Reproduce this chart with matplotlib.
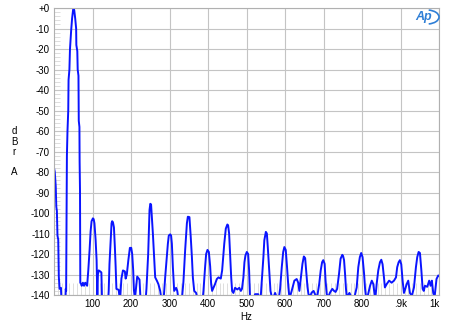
import matplotlib
matplotlib.use("Agg")
import matplotlib.pyplot as plt
from matplotlib.ticker import MultipleLocator, FixedLocator
from matplotlib.patches import Arc

plt.rcParams['font.family'] = ['Liberation Sans', 'DejaVu Sans']

# spectrum (Hz, dBrA)
freq_hz = [
    0, 2, 4.5, 6, 7.5, 9, 11, 12.5, 14.5, 18, 20, 29, 30.5, 31.5,
    33.5, 35, 37, 37.8, 40, 41.5, 44.5, 47, 49.5, 50.8, 52.5, 55, 57.5, 58,
    60.5, 61.5, 63.5, 64.3, 66, 66.5, 67.5, 68.3, 70, 72, 75, 78, 81, 84, 86,
    89, 92.4, 95, 97.5, 101, 103, 105, 108, 110.6, 112.5, 114, 116, 120, 123,
    125, 140, 142, 144, 146.8, 149.4, 151, 153, 155.6, 158, 160, 162, 168,
    170, 172, 175, 179, 184, 186, 189, 193, 197, 200.5, 203, 205.6, 207.5,
    210, 214, 216, 222, 224.6, 238, 240, 244.5, 248, 250, 252, 254, 256.7,
    260, 262.7, 267, 271, 275.7, 278, 285, 288.6, 293, 295.6, 298, 301.6,
    304, 306, 308.6, 312, 317, 320, 323, 332, 336, 340.5, 345, 347.5, 351.6,
    355, 358, 360.5, 364, 369, 372.4, 386, 388, 392.4, 395, 398.4, 402,
    405.4, 408, 410.5, 414, 418, 422.7, 427, 433, 436.5, 442, 446, 450, 452,
    454.6, 457.5, 460, 462.4, 465.8, 470, 476, 481, 485, 488, 491.7, 494.4,
    497, 500.5, 504, 506.5, 509, 518, 522, 530, 533, 537, 539, 543.6, 546,
    550, 552.6, 555, 558.6, 562, 565.5, 570, 574, 578, 584, 587, 591.3, 595,
    598, 601.6, 605, 608.4, 611, 614, 617, 624, 630, 634, 637, 641, 645,
    648.6, 652, 654.6, 658, 660.6, 665, 669, 674, 679.6, 684, 688.5, 692.4,
    696, 699, 702.6, 705, 708, 712, 716.6, 722.5, 727, 731, 735, 740, 744,
    748.4, 750.5, 753, 755.6, 758, 760, 767, 772, 780, 785.8, 790, 794,
    797.5, 801, 805, 807.6, 810, 815, 820.5, 825, 829, 833, 835, 837.6,
    841.8, 846.2, 849.7, 853, 856.6, 859, 863.6, 870, 876.5, 882.6, 887.8,
    891, 894.7, 898, 901.5, 905, 908.5, 912, 915.5, 919.6, 924, 929, 934.5,
    939.6, 943, 946.6, 950, 953.7, 957, 960, 963, 969, 974, 977.6, 981,
    984.5, 988, 993, 997.4, 1000,
]
level_db = [
    -78, -80, -87, -97, -99, -111, -113, -131, -137, -136.5, -145, -145, -137, -138,
    -72, -60, -50, -35, -30, -20, -11, -5, -1, 0, -1, -5, -10, -18,
    -21, -30, -33, -55, -58, -75, -89, -134, -134.5, -135.5, -134, -135.5, -134, -134.8, -135.5,
    -128, -118, -109, -104, -102.6, -103, -105, -113, -123, -142, -130, -128, -128.5, -129,
    -145, -145, -138, -125, -115, -105, -104, -104.5, -107, -116.6, -126, -137, -137.5,
    -141, -141, -132, -128, -128.5, -132, -130, -123, -117, -117, -120, -128, -137.6,
    -142, -135, -131, -132.5, -142, -142, -137, -120, -98.5, -95.5, -95.8, -102, -110,
    -121.5, -131.4, -133, -134.7, -138, -141, -141, -131.4, -121.5, -115, -111, -110.4,
    -111, -115, -126.4, -138, -136.5, -138, -142, -142, -133.5, -118, -105, -101.8, -102,
    -111.7, -121.5, -131.4, -138, -139, -142, -142, -138, -126, -120, -118, -119,
    -126, -134.7, -138, -136.5, -134.7, -132.2, -131.4, -132, -128, -115, -107.6, -105.6, -106,
    -110, -121.5, -131.4, -138, -139, -136.5, -137.3, -136.5, -138, -137, -131.4, -124,
    -120.7, -119, -120, -128, -142, -142, -139.6, -139.6, -142, -140, -134.6, -121.5, -113.3,
    -109.2, -110, -116.6, -128, -138, -141, -141, -139, -141, -141, -137, -126.4, -119,
    -116.6, -118, -126.4, -136, -141, -140, -138, -133, -132.2, -134, -138, -131.4, -124.8,
    -121.2, -122, -128, -136, -139.6, -140.5, -138.8, -138, -140.5, -140, -134.6, -128,
    -124, -123, -124.8, -133, -139.6, -141, -138.8, -137, -138, -138.5, -137, -129.6, -122.3,
    -120.4, -121, -123, -129.7, -137, -141, -139, -141, -141, -136.3, -126.4, -121.5,
    -119.5, -121.5, -129.7, -137, -141, -140, -135.5, -133, -134.7, -141, -140, -134.7,
    -128, -124, -122.8, -125, -131.4, -136.3, -134.7, -133, -134, -133, -131.4,
    -126.4, -124, -123, -125, -133, -139, -137, -134.7, -133, -139, -140.5, -136.3,
    -126.4, -121.5, -119, -119.5, -128, -137, -138, -135.5, -136, -133, -135.5, -133,
    -139, -141, -132.2, -130.5, -130.5,
]

x_ticks = [100, 200, 300, 400, 500, 600, 700, 800, 900, 1000]
x_tick_labels = ["100", "200", "300", "400", "500", "600", "700", "800", ".9k", "1k"]
y_ticks = list(range(-140, 1, 10))
y_tick_labels = ["+0" if v == 0 else str(v) for v in y_ticks]

fig = plt.figure(figsize=(4.5, 3.24), dpi=100)
ax = fig.add_axes([0.12, 0.0895, 0.856, 0.8855])

ax.plot(freq_hz, level_db, color="#0a14ff", linewidth=1.4)

ax.set_xlim(0, 1000)
ax.set_ylim(-140, 0)

ax.xaxis.set_major_locator(FixedLocator(x_ticks))
ax.set_xticklabels(x_tick_labels)
ax.get_xticklabels()[-1].set_horizontalalignment("right")
ax.yaxis.set_major_locator(FixedLocator(y_ticks))
ax.set_yticklabels(y_tick_labels)
ax.xaxis.set_minor_locator(MultipleLocator(10))
ax.yaxis.set_minor_locator(MultipleLocator(2))

ax.tick_params(axis="both", which="major", length=0, labelsize=7, pad=3, colors="black")
ax.tick_params(axis="x", which="minor", direction="in", length=9, width=0.6, color="#d8d8d8")
ax.tick_params(axis="y", which="minor", direction="in", length=4, width=0.6, color="#d8d8d8")

ax.grid(True, which="major", color="#c4c4c4", linewidth=0.8)
ax.set_axisbelow(True)
for s in ax.spines.values():
    s.set_color("#b0b0b0")
    s.set_linewidth(0.8)

ax.set_xlabel("Hz", fontsize=7, labelpad=2)

# stacked unit label on the left
for ch, yp in zip(["d", "B", "r", "A"], [131, 142, 152, 172]):
    fig.text(14 / 450, 1 - yp / 324, ch, fontsize=7, ha="center", va="center")

# Ap logo
fig.text(424 / 450, 1 - 17 / 324, "Ap", fontsize=9, fontstyle="italic", fontweight="bold",
         color="#2f7fd6", ha="center", va="center")
fig.patches.append(Arc((427 / 450, 1 - 17 / 324), 24 / 450, 14 / 324, theta1=-80, theta2=80,
                       transform=fig.transFigure, color="#2f7fd6", linewidth=1.2))

fig.savefig("out.png", dpi=100)
